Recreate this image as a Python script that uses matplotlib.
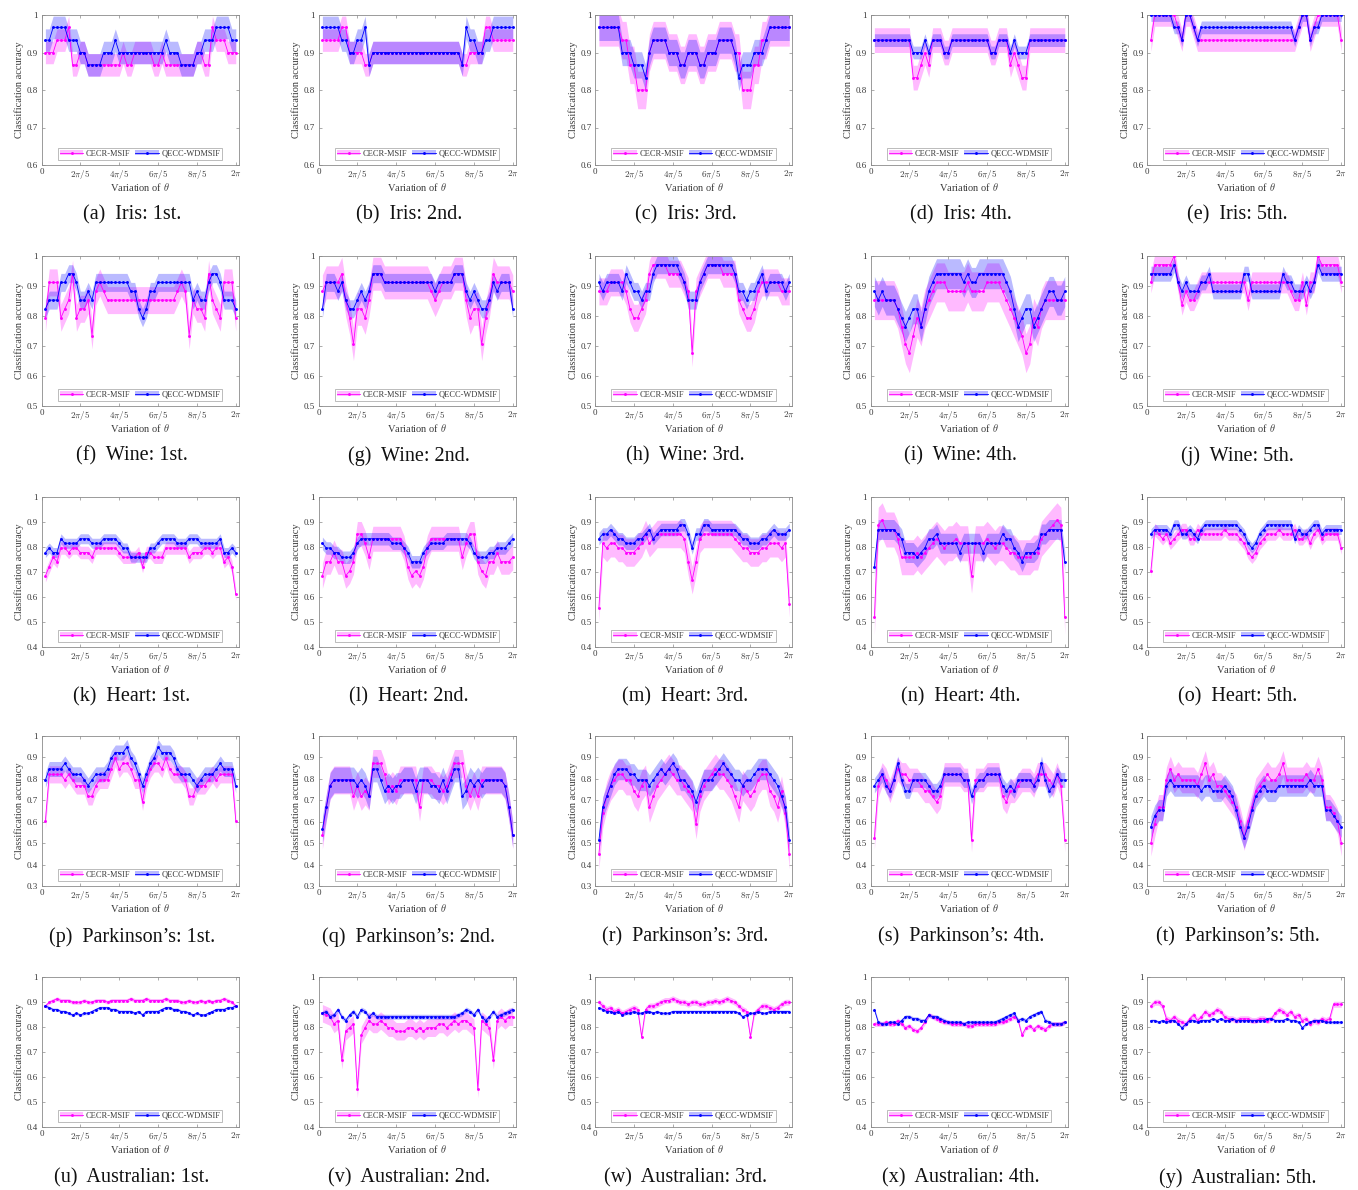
import numpy as np
import matplotlib
matplotlib.use("Agg")
import matplotlib.pyplot as plt
from matplotlib.patches import Patch
from matplotlib.lines import Line2D

plt.rcParams['font.family'] = ['Liberation Serif', 'DejaVu Serif']
plt.rcParams['mathtext.fontset'] = 'cm'

# ---------------------------------------------------------------- labels
DATASETS = ["Iris", "Wine", "Heart", "Parkinson\u2019s", "Australian"]
ORDINALS = ["1st", "2nd", "3rd", "4th", "5th"]
PANEL_LETTERS = "abcdefghijklmnopqrstuvwxy"
Y_LOWER = [0.6, 0.5, 0.4, 0.3, 0.4]
SERIES_NAMES = ["CECR-MSIF", "QECC-WDMSIF"]
X_TICK_LABELS = ["0", r"$2\pi/5$", r"$4\pi/5$", r"$6\pi/5$", r"$8\pi/5$", r"$2\pi$"]
N_STEPS = 50  # theta sampled at k*2pi/50

# ---------------------------------------------------------------- Iris
iris_1_cecr = [.900, .900, .900, .933, .933, .933, .967, .867, .867, .900,
               .900, .867, .867, .867, .867, .867, .867, .867, .867, .867,
               .900, .867, .867, .900, .900, .900, .900, .900, .867, .867,
               .900, .867, .867, .867, .867, .867, .867, .867, .867, .900,
               .900, .867, .867, .967, .933, .933, .933, .900, .900, .900]
iris_1_qecc = [.933, .933, .967, .967, .967, .967, .933, .933, .933, .900,
               .900, .867, .867, .867, .867, .900, .900, .900, .933, .900,
               .900, .900, .900, .900, .900, .900, .900, .900, .900, .900,
               .900, .933, .900, .900, .900, .867, .867, .867, .867, .900,
               .900, .933, .933, .933, .967, .967, .967, .967, .933, .933]
iris_2_cecr = [.933, .933, .933, .933, .933, .967, .967, .900, .900, .900,
               .900, .867, .867, .900, .900, .900, .900, .900, .900, .900,
               .900, .900, .900, .900, .900, .900, .900, .900, .900, .900,
               .900, .900, .900, .900, .900, .900, .867, .867, .900, .900,
               .900, .900, .967, .967, .933, .933, .933, .933, .933, .933]
iris_2_qecc = [.967, .967, .967, .967, .967, .933, .933, .900, .900, .933,
               .933, .967, .867, .900, .900, .900, .900, .900, .900, .900,
               .900, .900, .900, .900, .900, .900, .900, .900, .900, .900,
               .900, .900, .900, .900, .900, .900, .867, .967, .933, .933,
               .900, .900, .933, .933, .967, .967, .967, .967, .967, .967]
iris_3_cecr = [.967, .967, .967, .967, .967, .967, .933, .933, .867, .867,
               .800, .800, .800, .900, .933, .933, .933, .933, .900, .900,
               .900, .867, .867, .900, .900, .900, .867, .867, .900, .900,
               .900, .933, .933, .933, .933, .900, .900, .800, .800, .800,
               .867, .867, .933, .933, .967, .967, .967, .967, .967, .967]
iris_3_qecc = [.967, .967, .967, .967, .967, .967, .900, .900, .900, .867,
               .867, .867, .833, .900, .933, .933, .933, .933, .900, .900,
               .900, .867, .867, .900, .900, .900, .867, .867, .900, .900,
               .900, .933, .933, .933, .933, .900, .833, .867, .867, .867,
               .900, .900, .900, .933, .967, .967, .967, .967, .967, .967]
iris_4_cecr = [.933, .933, .933, .933, .933, .933, .933, .933, .933, .933,
               .833, .833, .867, .900, .867, .933, .933, .933, .900, .900,
               .933, .933, .933, .933, .933, .933, .933, .933, .933, .933,
               .900, .900, .933, .933, .933, .867, .900, .867, .833, .833,
               .933, .933, .933, .933, .933, .933, .933, .933, .933, .933]
iris_4_qecc = [.933, .933, .933, .933, .933, .933, .933, .933, .933, .933,
               .900, .900, .900, .933, .900, .933, .933, .933, .900, .900,
               .933, .933, .933, .933, .933, .933, .933, .933, .933, .933,
               .900, .900, .933, .933, .933, .900, .933, .900, .900, .900,
               .933, .933, .933, .933, .933, .933, .933, .933, .933, .933]
iris_5_cecr = [.933, 1.00, 1.00, 1.00, 1.00, 1.00, 1.00, .967, .933, 1.00,
               1.00, .967, .933, .933, .933, .933, .933, .933, .933, .933,
               .933, .933, .933, .933, .933, .933, .933, .933, .933, .933,
               .933, .933, .933, .933, .933, .933, .933, .933, .967, 1.00,
               1.00, .933, .967, 1.00, 1.00, 1.00, 1.00, 1.00, 1.00, .933]
iris_5_qecc = [1.00, 1.00, 1.00, 1.00, 1.00, 1.00, .967, .967, .933, 1.00,
               1.00, .967, .933, .967, .967, .967, .967, .967, .967, .967,
               .967, .967, .967, .967, .967, .967, .967, .967, .967, .967,
               .967, .967, .967, .967, .967, .967, .967, .933, .967, 1.00,
               1.00, .933, .967, .967, 1.00, 1.00, 1.00, 1.00, 1.00, 1.00]

# ---------------------------------------------------------------- Wine
wine_1_cecr = [.794, .912, .912, .912, .794, .824, .853, .941, .794, .824,
               .824, .853, .735, .882, .912, .882, .853, .853, .853, .853,
               .853, .853, .853, .853, .853, .853, .853, .853, .853, .853,
               .853, .853, .853, .853, .882, .912, .882, .735, .853, .824,
               .824, .794, .941, .853, .824, .794, .912, .912, .912, .794]
wine_1_qecc = [.824, .853, .853, .853, .912, .912, .941, .941, .912, .853,
               .853, .882, .853, .912, .912, .912, .912, .912, .912, .912,
               .912, .912, .882, .882, .824, .794, .824, .882, .882, .912,
               .912, .912, .912, .912, .912, .912, .912, .912, .853, .882,
               .853, .853, .912, .941, .941, .912, .853, .853, .853, .824]
wine_2_cecr = [.882, .912, .912, .912, .912, .941, .853, .794, .706, .824,
               .824, .794, .853, .941, .941, .941, .912, .912, .912, .912,
               .912, .912, .912, .912, .912, .912, .912, .912, .882, .853,
               .882, .912, .912, .912, .941, .941, .941, .853, .794, .824,
               .824, .706, .794, .853, .941, .912, .912, .912, .912, .882]
wine_2_qecc = [.824, .912, .912, .912, .882, .912, .853, .824, .824, .853,
               .882, .853, .882, .941, .941, .941, .912, .912, .912, .912,
               .912, .912, .912, .912, .912, .912, .912, .912, .912, .882,
               .912, .912, .912, .912, .941, .941, .941, .882, .853, .882,
               .853, .824, .824, .853, .912, .882, .912, .912, .912, .824]
wine_3_cecr = [.882, .882, .882, .912, .912, .912, .912, .882, .824, .794,
               .794, .824, .853, .941, .971, .971, .971, .971, .941, .941,
               .941, .941, .912, .882, .676, .882, .912, .941, .971, .971,
               .971, .971, .941, .941, .941, .941, .853, .824, .794, .794,
               .824, .882, .912, .912, .912, .912, .912, .882, .882, .882]
wine_3_qecc = [.912, .882, .912, .912, .912, .912, .882, .941, .912, .882,
               .882, .853, .882, .882, .941, .971, .971, .971, .971, .971,
               .971, .941, .912, .853, .853, .853, .912, .941, .971, .971,
               .971, .971, .971, .971, .971, .941, .882, .882, .853, .882,
               .882, .912, .941, .882, .912, .912, .912, .912, .882, .912]
wine_4_cecr = [.853, .853, .853, .853, .853, .853, .824, .765, .706, .676,
               .735, .794, .765, .824, .853, .882, .912, .912, .912, .882,
               .882, .882, .882, .882, .912, .882, .882, .882, .882, .912,
               .912, .912, .912, .882, .853, .824, .794, .765, .735, .676,
               .706, .794, .765, .824, .853, .853, .853, .853, .853, .853]
wine_4_qecc = [.882, .853, .882, .853, .853, .853, .824, .794, .765, .794,
               .824, .824, .765, .824, .882, .912, .941, .941, .941, .941,
               .941, .941, .941, .912, .941, .912, .912, .941, .941, .941,
               .941, .941, .941, .941, .912, .882, .824, .765, .794, .824,
               .824, .765, .794, .824, .853, .882, .882, .853, .853, .882]
wine_5_cecr = [.912, .971, .971, .971, .971, .971, 1.00, .912, .838, .882,
               .853, .853, .882, .912, .912, .912, .912, .912, .912, .912,
               .912, .912, .912, .912, .912, .853, .912, .912, .912, .912,
               .912, .912, .912, .912, .912, .912, .882, .853, .853, .912,
               .838, .912, .912, 1.00, .971, .971, .971, .971, .971, .912]
wine_5_qecc = [.941, .941, .941, .941, .941, .941, .971, .912, .882, .912,
               .882, .882, .882, .912, .912, .941, .882, .882, .882, .882,
               .882, .882, .882, .882, .941, .941, .882, .882, .882, .882,
               .882, .882, .882, .882, .941, .912, .912, .882, .882, .882,
               .912, .882, .912, .971, .941, .941, .941, .941, .941, .941]

# ---------------------------------------------------------------- Heart
heart_1_cecr = [.685, .722, .759, .741, .796, .796, .778, .796, .796, .778,
                .778, .778, .759, .796, .796, .796, .796, .796, .796, .778,
                .759, .759, .759, .759, .778, .722, .778, .778, .759, .759,
                .759, .796, .796, .796, .796, .796, .796, .759, .778, .778,
                .778, .796, .796, .778, .796, .796, .741, .759, .722, .611]
heart_1_qecc = [.778, .796, .778, .778, .833, .815, .815, .815, .815, .833,
                .833, .833, .815, .815, .815, .833, .833, .833, .833, .815,
                .796, .796, .759, .759, .759, .759, .759, .796, .796, .815,
                .833, .833, .833, .833, .815, .815, .815, .833, .833, .833,
                .815, .815, .815, .815, .815, .833, .778, .778, .796, .778]
heart_2_cecr = [.685, .741, .741, .778, .741, .741, .685, .704, .741, .852,
                .852, .815, .759, .833, .833, .833, .833, .833, .833, .833,
                .833, .796, .722, .685, .704, .685, .722, .796, .833, .833,
                .833, .833, .833, .833, .833, .833, .759, .815, .852, .852,
                .741, .704, .685, .741, .741, .778, .741, .741, .741, .759]
heart_2_qecc = [.815, .796, .796, .778, .778, .759, .759, .759, .778, .815,
                .833, .833, .833, .833, .833, .833, .833, .833, .815, .815,
                .815, .796, .778, .741, .741, .741, .778, .796, .815, .815,
                .815, .815, .833, .833, .833, .833, .833, .833, .815, .778,
                .759, .759, .759, .778, .778, .796, .796, .796, .815, .833]
heart_3_cecr = [.556, .815, .796, .815, .815, .796, .796, .778, .778, .778,
                .796, .815, .852, .815, .833, .852, .852, .852, .852, .852,
                .852, .852, .833, .741, .667, .741, .833, .852, .852, .852,
                .852, .852, .852, .852, .852, .833, .815, .796, .796, .778,
                .778, .778, .796, .796, .815, .815, .815, .796, .815, .574]
heart_3_qecc = [.833, .852, .852, .870, .852, .833, .833, .815, .815, .815,
                .833, .833, .852, .870, .833, .852, .870, .870, .870, .870,
                .870, .889, .889, .852, .796, .852, .852, .889, .889, .870,
                .870, .870, .870, .870, .870, .870, .852, .833, .833, .815,
                .815, .815, .833, .833, .852, .870, .852, .852, .852, .870]
heart_4_cecr = [.519, .889, .907, .870, .870, .870, .833, .759, .759, .759,
                .759, .778, .759, .778, .796, .815, .833, .815, .796, .815,
                .815, .833, .815, .815, .815, .685, .815, .815, .815, .833,
                .815, .796, .815, .815, .796, .778, .778, .759, .759, .759,
                .759, .778, .778, .833, .852, .870, .889, .907, .889, .519]
heart_4_qecc = [.722, .870, .870, .870, .870, .870, .852, .833, .778, .778,
                .778, .759, .778, .796, .833, .833, .852, .815, .815, .815,
                .815, .815, .778, .815, .815, .815, .815, .815, .778, .815,
                .815, .815, .815, .852, .833, .833, .796, .778, .741, .778,
                .778, .778, .796, .852, .852, .870, .870, .870, .870, .741]
heart_5_cecr = [.704, .870, .852, .833, .852, .815, .833, .852, .870, .870,
                .833, .833, .870, .852, .852, .852, .852, .852, .852, .870,
                .852, .852, .852, .833, .815, .778, .759, .778, .815, .833,
                .852, .852, .852, .870, .852, .852, .852, .870, .833, .833,
                .852, .815, .852, .870, .833, .852, .852, .852, .852, .796]
heart_5_qecc = [.852, .870, .870, .870, .870, .852, .889, .889, .852, .852,
                .870, .852, .833, .870, .889, .889, .889, .889, .889, .889,
                .889, .889, .889, .870, .852, .815, .796, .815, .852, .870,
                .889, .889, .889, .889, .889, .889, .889, .833, .870, .852,
                .852, .870, .889, .889, .852, .870, .870, .870, .870, .870]

# ---------------------------------------------------------------- Parkinson's
park_1_cecr = [.605, .821, .821, .821, .821, .795, .821, .795, .769, .769,
               .769, .718, .718, .769, .795, .795, .795, .846, .897, .846,
               .872, .872, .846, .795, .795, .692, .795, .846, .872, .872,
               .846, .897, .846, .821, .821, .821, .795, .718, .718, .769,
               .769, .769, .795, .821, .795, .821, .821, .821, .821, .605]
park_1_qecc = [.795, .846, .846, .846, .846, .872, .846, .821, .821, .821,
               .795, .769, .795, .821, .821, .821, .846, .897, .923, .923,
               .923, .949, .897, .872, .821, .769, .821, .872, .897, .949,
               .923, .923, .923, .897, .846, .821, .821, .821, .795, .769,
               .795, .821, .821, .821, .846, .872, .846, .846, .846, .769]
park_2_cecr = [.538, .667, .769, .795, .795, .795, .795, .795, .718, .769,
               .718, .744, .718, .872, .872, .872, .821, .744, .769, .744,
               .795, .795, .795, .795, .795, .667, .795, .795, .795, .769,
               .769, .744, .769, .821, .872, .872, .872, .769, .718, .769,
               .718, .795, .795, .795, .795, .795, .795, .769, .667, .538]
park_2_qecc = [.564, .667, .769, .795, .795, .795, .795, .795, .795, .769,
               .795, .769, .718, .846, .846, .795, .744, .769, .744, .769,
               .769, .795, .795, .795, .744, .795, .795, .795, .769, .769,
               .744, .795, .744, .795, .846, .846, .718, .744, .795, .769,
               .795, .769, .795, .795, .795, .795, .795, .769, .667, .538]
park_3_cecr = [.449, .641, .718, .769, .795, .821, .821, .795, .795, .744,
               .718, .769, .795, .667, .718, .769, .795, .821, .846, .821,
               .795, .795, .769, .744, .718, .590, .718, .769, .795, .821,
               .846, .821, .821, .795, .769, .718, .667, .769, .744, .718,
               .744, .795, .821, .821, .744, .718, .667, .744, .641, .449]
park_3_qecc = [.513, .667, .718, .769, .821, .846, .846, .846, .821, .821,
               .795, .795, .795, .769, .795, .821, .846, .821, .846, .872,
               .846, .795, .795, .769, .744, .692, .744, .795, .795, .795,
               .821, .846, .872, .846, .821, .795, .795, .769, .795, .795,
               .821, .846, .846, .846, .821, .795, .769, .718, .667, .513]
park_4_cecr = [.526, .769, .821, .795, .744, .795, .846, .821, .821, .795,
               .795, .795, .769, .744, .744, .718, .692, .718, .821, .821,
               .821, .821, .821, .795, .795, .513, .795, .795, .795, .821,
               .821, .821, .821, .718, .692, .744, .744, .769, .795, .795,
               .795, .769, .821, .821, .821, .795, .769, .821, .769, .513]
park_4_qecc = [.769, .795, .821, .769, .744, .795, .872, .795, .744, .744,
               .795, .795, .795, .795, .769, .744, .744, .769, .821, .821,
               .821, .821, .821, .795, .795, .718, .769, .795, .795, .821,
               .821, .821, .821, .769, .744, .769, .744, .795, .795, .795,
               .795, .769, .795, .872, .795, .744, .769, .821, .795, .795]
park_5_cecr = [.500, .590, .667, .667, .795, .846, .795, .821, .795, .795,
               .795, .795, .769, .821, .872, .795, .821, .769, .769, .744,
               .718, .692, .667, .603, .526, .603, .667, .744, .769, .795,
               .821, .795, .795, .821, .872, .795, .795, .795, .795, .795,
               .821, .795, .795, .846, .795, .667, .667, .641, .603, .500]
park_5_qecc = [.577, .628, .654, .654, .769, .795, .769, .769, .769, .769,
               .769, .769, .769, .744, .769, .769, .744, .744, .744, .769,
               .744, .718, .654, .577, .526, .577, .654, .718, .744, .769,
               .744, .744, .744, .769, .769, .769, .769, .769, .769, .769,
               .769, .795, .769, .769, .769, .654, .654, .628, .603, .577]

# ---------------------------------------------------------------- Australian
aus_1_cecr = [.884, .899, .906, .913, .906, .906, .906, .899, .899, .899,
              .906, .899, .899, .906, .906, .906, .899, .906, .906, .906,
              .906, .906, .913, .906, .906, .906, .913, .906, .906, .906,
              .906, .913, .906, .906, .906, .899, .899, .906, .899, .899,
              .906, .899, .906, .899, .906, .906, .913, .906, .899, .884]
aus_1_qecc = [.884, .877, .870, .870, .862, .862, .855, .848, .855, .848,
              .855, .855, .862, .870, .877, .877, .877, .870, .870, .862,
              .862, .862, .862, .855, .862, .848, .862, .862, .862, .862,
              .870, .877, .877, .870, .870, .862, .862, .855, .848, .855,
              .848, .848, .855, .862, .870, .870, .870, .877, .877, .884]
aus_2_cecr = [.855, .848, .841, .812, .826, .667, .783, .797, .812, .551,
              .768, .797, .826, .812, .812, .826, .812, .797, .797, .783,
              .783, .783, .797, .797, .783, .797, .783, .797, .797, .797,
              .812, .812, .797, .812, .826, .812, .826, .826, .812, .797,
              .551, .826, .812, .797, .667, .826, .841, .826, .841, .841]
aus_2_qecc = [.855, .862, .841, .848, .870, .841, .826, .848, .862, .841,
              .870, .862, .841, .855, .841, .841, .841, .841, .841, .841,
              .841, .841, .841, .841, .841, .841, .841, .841, .841, .841,
              .841, .841, .841, .841, .841, .848, .855, .870, .862, .848,
              .870, .841, .826, .841, .862, .841, .848, .855, .862, .870]
aus_3_cecr = [.899, .884, .870, .877, .862, .870, .855, .862, .870, .877,
              .870, .761, .870, .884, .884, .891, .899, .906, .906, .913,
              .906, .899, .899, .891, .899, .899, .891, .891, .899, .899,
              .906, .899, .906, .913, .906, .899, .884, .870, .862, .761,
              .855, .870, .884, .884, .877, .870, .877, .891, .899, .899]
aus_3_qecc = [.877, .870, .862, .862, .855, .862, .848, .855, .855, .862,
              .855, .855, .862, .862, .855, .862, .855, .855, .855, .862,
              .862, .862, .862, .862, .862, .862, .862, .862, .862, .862,
              .862, .862, .862, .862, .862, .862, .855, .841, .848, .855,
              .855, .862, .855, .855, .862, .862, .862, .862, .862, .862]
aus_4_cecr = [.812, .812, .812, .819, .812, .812, .826, .812, .797, .804,
              .790, .783, .797, .819, .848, .841, .833, .826, .819, .819,
              .812, .812, .812, .812, .804, .804, .812, .812, .812, .812,
              .812, .812, .819, .819, .826, .833, .841, .826, .768, .797,
              .804, .790, .804, .797, .790, .804, .812, .812, .812, .819]
aus_4_qecc = [.870, .819, .812, .812, .819, .819, .812, .826, .841, .841,
              .833, .833, .826, .826, .848, .841, .841, .833, .826, .819,
              .819, .819, .819, .812, .819, .819, .819, .819, .819, .819,
              .819, .819, .826, .833, .841, .848, .855, .826, .833, .826,
              .841, .848, .855, .862, .826, .819, .812, .812, .812, .819]
aus_5_cecr = [.884, .899, .899, .884, .833, .826, .841, .826, .819, .812,
              .833, .848, .826, .841, .862, .848, .855, .870, .862, .841,
              .833, .833, .826, .833, .833, .833, .826, .826, .833, .833,
              .826, .833, .855, .870, .862, .848, .862, .841, .848, .826,
              .833, .812, .826, .819, .833, .826, .833, .891, .891, .891]
aus_5_qecc = [.826, .826, .819, .826, .819, .826, .826, .812, .797, .812,
              .826, .826, .819, .826, .826, .826, .833, .826, .833, .826,
              .826, .833, .826, .826, .826, .826, .826, .826, .826, .826,
              .833, .833, .826, .826, .826, .833, .826, .826, .819, .797,
              .812, .819, .826, .826, .826, .819, .819, .819, .819, .819]

# standard deviation (half-width of the shaded band), one per run
CECR_STD = [[.030, .030, .050, .033, .030],
            [.045, .055, .045, .065, .035],
            [.025, .050, .055, .070, .025],
            [.040, .065, .070, .055, .060],
            [.008, .035, .012, .010, .012]]
QECC_STD = [[.030, .030, .035, .017, .017],
            [.030, .030, .030, .050, .025],
            [.020, .025, .025, .040, .020],
            [.035, .060, .050, .035, .050],
            [.006, .010, .006, .008, .006]]

CECR = [[iris_1_cecr, iris_2_cecr, iris_3_cecr, iris_4_cecr, iris_5_cecr],
        [wine_1_cecr, wine_2_cecr, wine_3_cecr, wine_4_cecr, wine_5_cecr],
        [heart_1_cecr, heart_2_cecr, heart_3_cecr, heart_4_cecr, heart_5_cecr],
        [park_1_cecr, park_2_cecr, park_3_cecr, park_4_cecr, park_5_cecr],
        [aus_1_cecr, aus_2_cecr, aus_3_cecr, aus_4_cecr, aus_5_cecr]]
QECC = [[iris_1_qecc, iris_2_qecc, iris_3_qecc, iris_4_qecc, iris_5_qecc],
        [wine_1_qecc, wine_2_qecc, wine_3_qecc, wine_4_qecc, wine_5_qecc],
        [heart_1_qecc, heart_2_qecc, heart_3_qecc, heart_4_qecc, heart_5_qecc],
        [park_1_qecc, park_2_qecc, park_3_qecc, park_4_qecc, park_5_qecc],
        [aus_1_qecc, aus_2_qecc, aus_3_qecc, aus_4_qecc, aus_5_qecc]]

# ---------------------------------------------------------------- styling
MAGENTA = "#FF00FF"
BLUE = "#0000FF"
BAND_ALPHA = 0.27
AXIS_GRAY = "#8a8a8a"
TEXT_GRAY = "#3a3a3a"
MARKER_SIZE = 2.1

W, H = 1358, 1190
COL_LEFT = [41.5, 318.5, 595.0, 870.5, 1147.0]
ROW_TOP = [15.0, 256.0, 497.0, 736.0, 977.0]
AX_W, AX_H = 197.0, 150.0
CAPTION_Y = [215.0, 456.0, 697.0, 937.0, 1178.0]

fig = plt.figure(figsize=(W / 100, H / 100), dpi=100)


def draw_series(ax, values, std, color):
    y = np.asarray(values, dtype=float)
    x = np.arange(1, len(y) + 1) * 2 * np.pi / N_STEPS
    ax.fill_between(x, y - std, y + std, color=color, alpha=BAND_ALPHA,
                    linewidth=0, zorder=1)
    ax.plot(x, y, "-", color=color, lw=0.6, marker="o", ms=MARKER_SIZE,
            mec=color, mfc=color, mew=0, zorder=3)


for r in range(5):
    for c in range(5):
        left = COL_LEFT[c] / W
        bottom = 1 - (ROW_TOP[r] + AX_H) / H
        ax = fig.add_axes([left, bottom, AX_W / W, AX_H / H])

        draw_series(ax, CECR[r][c], CECR_STD[r][c], MAGENTA)
        draw_series(ax, QECC[r][c], QECC_STD[r][c], BLUE)

        ax.set_xlim(0, 2 * np.pi * 1.014)
        ax.set_ylim(Y_LOWER[r], 1.0)
        ax.set_xticks(np.arange(6) * 2 * np.pi / 5)
        ax.set_xticklabels(X_TICK_LABELS)
        yt = np.round(np.arange(Y_LOWER[r], 1.0001, 0.1), 1)
        ax.set_yticks(yt)
        ax.set_yticklabels(["1" if v == 1.0 else f"{v:.1f}" for v in yt])
        ax.tick_params(direction="in", length=2.5, width=0.5,
                       colors=AXIS_GRAY, labelcolor=TEXT_GRAY,
                       labelsize=6.5, top=True, right=True, pad=2.5)
        for sp in ax.spines.values():
            sp.set_color(AXIS_GRAY)
            sp.set_linewidth(0.6)
        ax.set_ylabel("Classification accuracy", fontsize=7.5,
                      color=TEXT_GRAY, labelpad=2)
        ax.set_xlabel(r"Variation of $\theta$", fontsize=7.5,
                      color=TEXT_GRAY, labelpad=0)

        handles = [
            (Patch(facecolor=MAGENTA, alpha=BAND_ALPHA, lw=0),
             Line2D([], [], color=MAGENTA, lw=0.6, marker="o",
                    ms=MARKER_SIZE, mew=0)),
            (Patch(facecolor=BLUE, alpha=BAND_ALPHA, lw=0),
             Line2D([], [], color=BLUE, lw=0.6, marker="o",
                    ms=MARKER_SIZE, mew=0)),
        ]
        leg = ax.legend(handles, SERIES_NAMES, loc="lower center",
                        bbox_to_anchor=(0.5, 0.035), ncol=2, fontsize=6,
                        frameon=True, fancybox=False, borderpad=0.25,
                        handlelength=2.8, handleheight=0.6,
                        handletextpad=0.3, columnspacing=0.6,
                        borderaxespad=0)
        leg.get_frame().set_edgecolor(AXIS_GRAY)
        leg.get_frame().set_linewidth(0.5)
        for t in leg.get_texts():
            t.set_color(TEXT_GRAY)

        idx = r * 5 + c
        caption = f"({PANEL_LETTERS[idx]})  {DATASETS[r]}: {ORDINALS[c]}."
        cx = (COL_LEFT[c] + AX_W / 2 - 8) / W
        fig.text(cx, 1 - CAPTION_Y[r] / H, caption, ha="center",
                 va="center", fontsize=14.5, color="#111111")

fig.savefig("out.png", dpi=100)
